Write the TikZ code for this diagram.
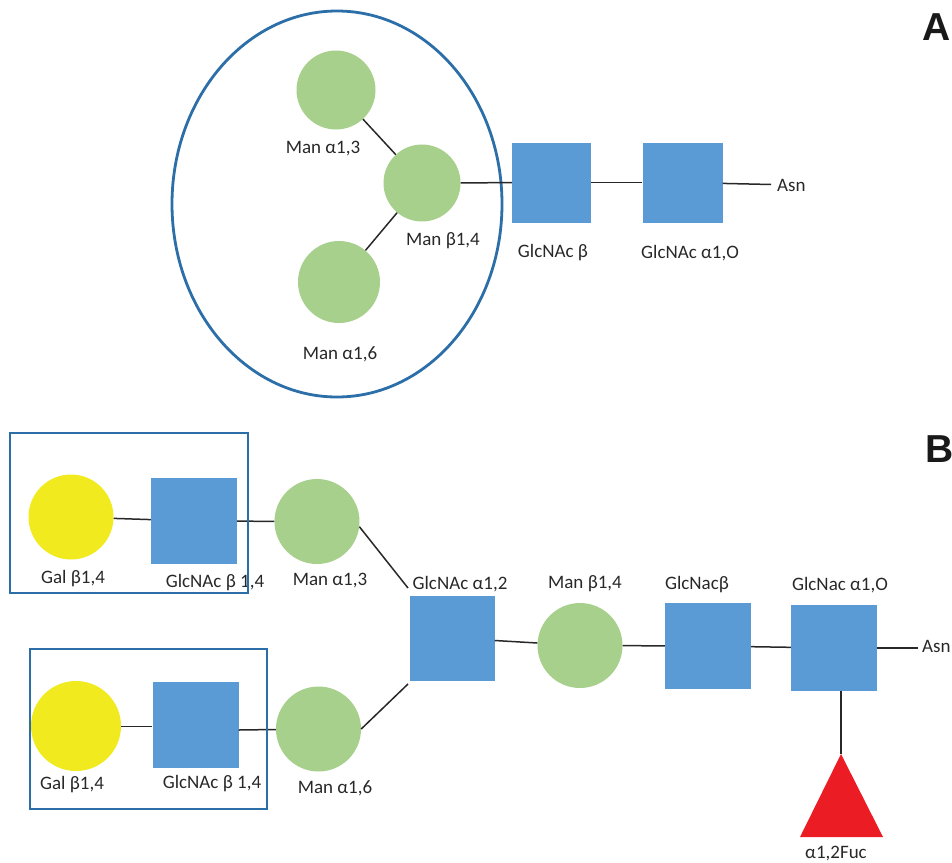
\documentclass[tikz,border=0pt]{standalone}
\usepackage{fontspec}
\setmainfont{Carlito}
\newfontfamily\letterfont{Liberation Sans}
\definecolor{mangreen}{RGB}{168,208,141}
\definecolor{glcblue}{RGB}{91,155,213}
\definecolor{galyellow}{RGB}{240,234,30}
\definecolor{fucred}{RGB}{236,28,36}
\definecolor{outlineblue}{RGB}{44,110,168}
\definecolor{linkgray}{RGB}{40,40,40}
\definecolor{labelgray}{RGB}{40,40,40}
\tikzset{
  mancirc/.style={circle, fill=mangreen, draw=none, inner sep=0pt},
  galcirc/.style={circle, fill=galyellow, draw=none, inner sep=0pt},
  glcsq/.style={rectangle, fill=glcblue, draw=none, inner sep=0pt},
  link/.style={draw=linkgray, line width=1.5pt},
  outline/.style={draw=outlineblue, line width=2.8pt},
  lbl/.style={text=labelgray, inner sep=0pt, font=\fontsize{19}{22}\selectfont},
  panel/.style={inner sep=0pt, font=\letterfont\bfseries\fontsize{39}{44}\selectfont, text=black!90}
}
\begin{document}
\begin{tikzpicture}[x=1pt,y=-1pt]
\useasboundingbox (0,0) rectangle (952,862);
% ---------------- Panel A ----------------
\node[panel, anchor=north west] (pA) at (922,13) {A};
\draw[outline] (337,204) ellipse [x radius=165, y radius=193];
\node[mancirc, minimum size=79] (aM13) at (336,90) {};
\node[mancirc, minimum size=77] (aMB14) at (422,183) {};
\node[mancirc, minimum size=82] (aM16) at (339,282) {};
\node[glcsq, minimum width=79, minimum height=80] (aG1) at (551.5,182.5) {};
\node[glcsq, minimum width=80, minimum height=80] (aG2) at (682.5,182.5) {};
\coordinate (aAsnEnd) at (771,184.5);
\node[lbl, anchor=west] (aAsn) at (777,185) {Asn};
\draw[link] (aM13) -- (aMB14);
\draw[link] (aMB14) -- (aM16);
\draw[link] (aMB14) -- (aG1);
\draw[link] (aG1) -- (aG2);
\draw[link] (aG2) -- (aAsnEnd);
\node[lbl] (laM13) at (323,149) {Man α1,3};
\node[lbl] (laMB14) at (443,241) {Man β1,4};
\node[lbl] (laM16) at (340,354) {Man α1,6};
\node[lbl] (laG1) at (553,253) {GlcNAc β};
\node[lbl] (laG2) at (690,253) {GlcNAc α1,O};
% ---------------- Panel B ----------------
\node[panel, anchor=north west] (pB) at (925,435) {B};
\node[galcirc, minimum size=85] (bGal1) at (71,517) {};
\node[glcsq, minimum size=86] (bG1) at (194,521) {};
\node[mancirc, minimum size=85] (bM13) at (317,521.5) {};
\node[galcirc, minimum size=90] (bGal2) at (76,726) {};
\node[glcsq, minimum size=86] (bG2) at (195.5,725) {};
\node[mancirc, minimum size=85] (bM16) at (318.5,729) {};
\node[glcsq, minimum size=85] (bG12) at (452,638) {};
\node[mancirc, minimum size=85] (bMB14) at (580,645.5) {};
\node[glcsq, minimum size=86] (bGNB) at (708,646) {};
\node[glcsq, minimum size=86] (bG1O) at (834,648) {};
\coordinate (bUpEnd) at (408,588);
\coordinate (bLowEnd) at (408,684);
\coordinate (bAsnEnd) at (918,648);
\coordinate (fucTop) at (841,754);
\fill[fucred] (fucTop) -- (883,837) -- (800,837) -- cycle;
\draw[link] (bGal1) -- (bG1);
\draw[link] (bG1) -- (bM13);
\draw[link] (bGal2.east |- 0,726.5) -- (bG2.west |- 0,726.5);
\draw[link] (bG2.east |- 0,730) -- (bM16.west |- 0,729.5);
\draw[link] (bM13.-7) -- (bUpEnd);
\draw[link] (bM16.east) -- (bLowEnd);
\draw[link] (bG12) -- (bMB14);
\draw[link] (bMB14) -- (bGNB);
\draw[link] (bGNB) -- (bG1O);
\draw[link] (bG1O) -- (bAsnEnd);
\draw[link] (bG1O.south -| fucTop) -- (fucTop);
\node[lbl, anchor=west] (bAsn) at (922,646) {Asn};
\node[lbl] (lbGal1) at (73,579) {Gal β1,4};
\node[lbl] (lbG1) at (215,583) {GlcNAc β 1,4};
\node[lbl] (lbM13) at (330,581) {Man α1,3};
\node[lbl] (lbGal2) at (72,785) {Gal β1,4};
\node[lbl] (lbG2) at (212,784) {GlcNAc β 1,4};
\node[lbl] (lbM16) at (335,788) {Man α1,6};
\node[lbl] (lbG12) at (460,584) {GlcNAc α1,2};
\node[lbl] (lbMB14) at (585,584) {Man β1,4};
\node[lbl] (lbGNB) at (697,585) {GlcNacβ};
\node[lbl] (lbG1O) at (840,585) {GlcNac α1,O};
\node[lbl] (lbFuc) at (836,854) {α1,2Fuc};
\draw[outline] (10,433) rectangle (248,593);
\draw[outline] (30,649) rectangle (267,809);
\end{tikzpicture}
\end{document}
